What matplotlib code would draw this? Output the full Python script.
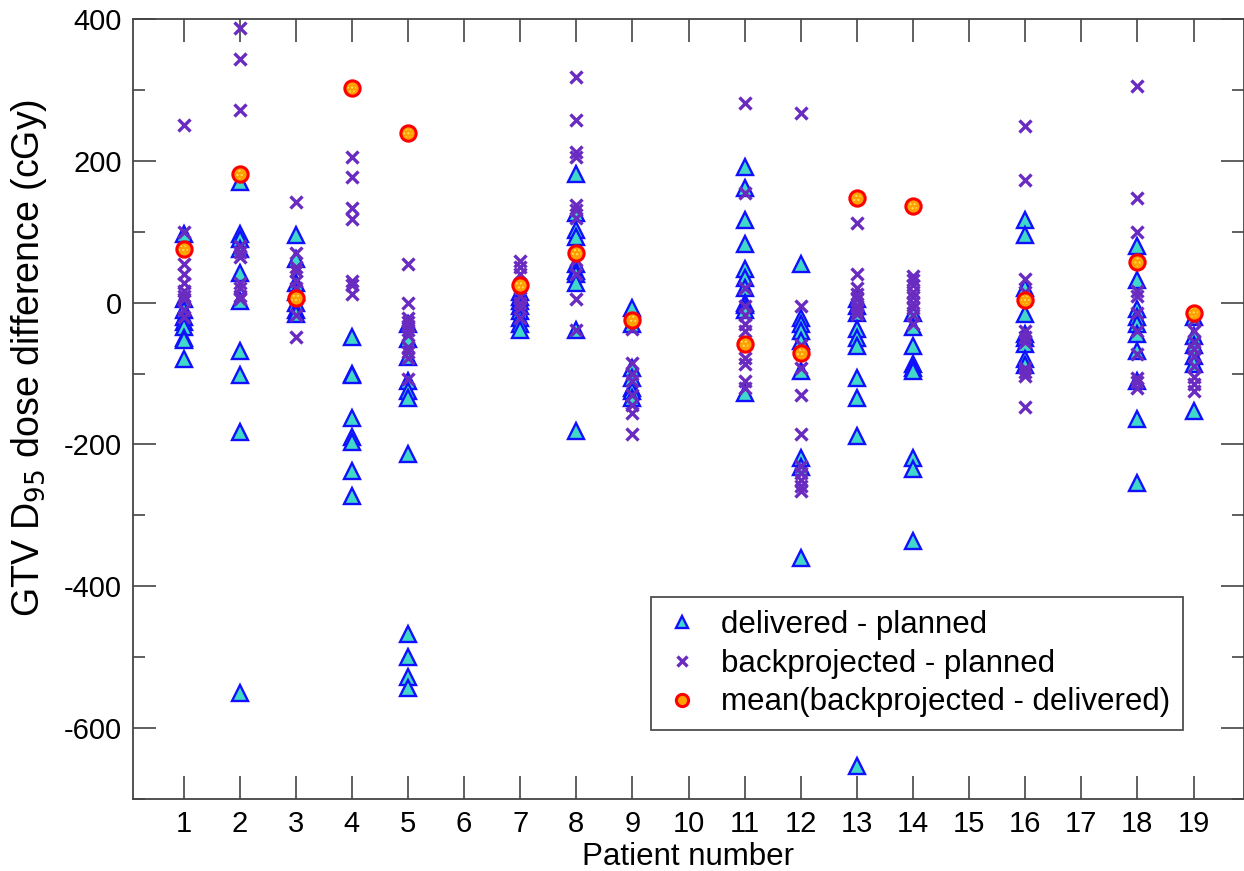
import matplotlib
matplotlib.use("Agg")
import matplotlib.pyplot as plt
from matplotlib.ticker import MultipleLocator

plt.rcParams['font.family'] = ['Liberation Sans', 'DejaVu Sans']
plt.rcParams['axes.unicode_minus'] = False

# 患者ごとのデータ (cGy)
patients = [1, 2, 3, 4, 5, 7, 8, 9, 11, 12, 13, 14, 16, 18, 19]

delivered = [
    [97, 5, -10, -20, -28, -35, -50, -52, -80],
    [170, 97, 90, 75, 42, 3, -68, -102, -182, -551],
    [95, 62, 28, 15, 0, -11, -16],
    [-48, -100, -102, -162, -190, -196, -237, -273],
    [-30, -51, -76, -110, -125, -135, -214, -468, -500, -528, -544],
    [15, 8, 2, -5, -12, -22, -30, -38],
    [182, 126, 102, 92, 55, 45, 40, 27, -38, -181],
    [-8, -30, -92, -106, -120, -124, -134],
    [191, 161, 116, 83, 48, 35, 21, 0, -4, -11, -127],
    [55, -21, -30, -40, -54, -97, -219, -232, -360],
    [5, -5, -15, -37, -50, -61, -106, -134, -188, -654],
    [-14, -35, -61, -86, -92, -96, -219, -235, -336],
    [116, 95, 20, -16, -44, -50, -58, -80, -88],
    [80, 32, -9, -20, -30, -44, -68, -110, -164, -255],
    [-20, -47, -60, -75, -86, -153],
]

backprojected = [
    [251, 100, 55, 41, 28, 17, 10, 5, -10, -20],
    [387, 343, 272, 80, 72, 65, 27, 20, 10, 5],
    [142, 70, 50, 45, 30, 20, 5, -18, -48],
    [205, 177, 134, 118, 31, 25, 12],
    [55, -1, -21, -28, -33, -38, -45, -63, -70, -78, -107],
    [59, 50, 40, 20, 10, 0, -8, -21],
    [318, 258, 212, 205, 137, 130, 120, 60, 40, 5, -38],
    [-37, -85, -100, -110, -130, -145, -155, -185],
    [282, 154, 20, -5, -18, -30, -40, -78, -86, -110, -120],
    [268, -5, -60, -92, -130, -185, -230, -240, -250, -258, -266],
    [113, 41, 20, 12, 5, -5, -10, -16],
    [38, 32, 25, 15, 8, 0, -8, -18, -30],
    [249, 173, 34, 15, -40, -48, -55, -92, -98, -103, -147],
    [305, 147, 99, 17, 10, -15, -40, -72, -106, -112, -120],
    [-25, -40, -55, -65, -75, -90, -105, -115, -124],
]

mean_diff = [75, 181, 6, 302, 239, 25, 70, -24, -58, -71, 147, 136, 4, 57, -14]

# 散布図用に平坦化
dx = [p for p, vals in zip(patients, delivered) for _ in vals]
dy = [v for vals in delivered for v in vals]
bx = [p for p, vals in zip(patients, backprojected) for _ in vals]
by = [v for vals in backprojected for v in vals]

fig = plt.figure(figsize=(12.44, 8.71), dpi=100)
ax = fig.add_axes([133 / 1244, 1 - 799 / 871, 1 - 133 / 1244, 780 / 871])

ax.plot(dx, dy, linestyle='none', marker='^', markersize=11,
        markerfacecolor='#40d8c8', markeredgecolor='#1010ff', markeredgewidth=1.7,
        label='delivered - planned', zorder=3)
ax.plot(bx, by, linestyle='none', marker='x', markersize=9,
        color='#6a2cc0', markeredgewidth=2.4,
        label='backprojected - planned', zorder=4)
ax.plot(patients, mean_diff, linestyle='none', marker='o', markersize=11,
        markerfacecolor='#ffa000', markeredgecolor='#ff0000', markeredgewidth=2.2,
        label='mean(backprojected - delivered)', zorder=5)
# 平均マーカーの点模様
ax.scatter(patients, mean_diff, s=40, marker='o', facecolor='none',
           edgecolor='#ffe060', linewidth=0, hatch='....', zorder=6)

ax.set_xlim(0.1, 19.9)
ax.set_ylim(-700, 400)
ax.set_xticks(range(1, 20))
ax.yaxis.set_major_locator(MultipleLocator(200))
ax.yaxis.set_minor_locator(MultipleLocator(100))

ax.tick_params(axis='both', which='major', direction='in', length=16.5, width=1.2,
               color='#444444', labelsize=21, top=True, right=True, pad=8)
ax.tick_params(axis='y', which='minor', direction='in', length=8.5, width=1.2,
               color='#444444', right=True)
ax.tick_params(axis='x', which='minor', bottom=False, top=False)
for s in ax.spines.values():
    s.set_color('#444444')
    s.set_linewidth(1.3)

ax.set_xlabel('Patient number', fontsize=22.5, labelpad=3)
ax.set_ylabel('GTV D$_{95}$ dose difference (cGy)', fontsize=27)
ax.yaxis.set_label_coords(-0.076, 0.566)

leg = ax.legend(loc='lower right', bbox_to_anchor=(0.945, 0.0885), borderaxespad=0,
                fontsize=22.5, frameon=True, fancybox=False, markerscale=0.8,
                handletextpad=0.64, borderpad=0.4, labelspacing=0.28, handlelength=1.2)
leg.get_frame().set_edgecolor('#222222')
leg.get_frame().set_linewidth(1.3)

fig.savefig('out.png', dpi=100)
